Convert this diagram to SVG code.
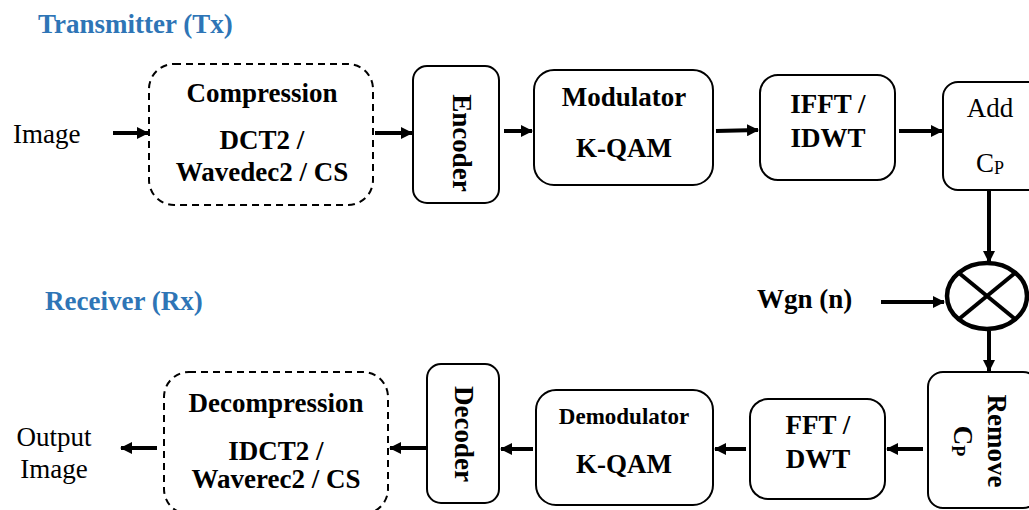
<svg xmlns="http://www.w3.org/2000/svg" width="1029" height="510" viewBox="0 0 1029 510">
<style>
.box{fill:#fff;stroke:#000;stroke-width:2}
.dash{fill:#fff;stroke:#000;stroke-width:2;stroke-dasharray:7 5}
.b{font-family:"Liberation Serif","Times New Roman",serif;font-weight:bold;font-size:27px;fill:#000}
.r{font-family:"Liberation Serif","Times New Roman",serif;font-size:27px;fill:#000}
.t{font-family:"Liberation Serif","Times New Roman",serif;font-weight:bold;font-size:27px;fill:#2E75B6}
.c{text-anchor:middle}
.s{font-size:23px}
.con line{stroke:#000;stroke-width:4;marker-end:url(#ah)}
</style>
<defs>
<marker id="ah" markerUnits="userSpaceOnUse" markerWidth="12" markerHeight="12" refX="11" refY="6" orient="auto">
<path d="M0,0 L12,6 L0,12 z" fill="#000"/>
</marker>
</defs>
<rect width="1029" height="510" fill="#fff"/>
<text class="t" x="38" y="33">Transmitter (Tx)</text>
<text class="t" x="45" y="310">Receiver (Rx)</text>
<g id="input"><text class="r" x="13" y="143">Image</text></g>
<g id="compression">
<rect class="dash" x="149" y="64" width="224" height="141" rx="25"/>
<text class="b c" x="262" y="102">Compression</text>
<text class="b c" x="262" y="149">DCT2 /</text>
<text class="b c" x="262" y="181">Wavedec2 / CS</text>
</g>
<g id="encoder">
<rect class="box" x="413" y="66" width="86" height="137" rx="14"/>
<text class="b c" x="453" y="143" transform="rotate(90 453 143)">Encoder</text>
</g>
<g id="modulator">
<rect class="box" x="534" y="70" width="179" height="115" rx="20"/>
<text class="b c" x="624" y="106">Modulator</text>
<text class="b c" x="624" y="157">K-QAM</text>
</g>
<g id="ifft">
<rect class="box" x="760" y="75" width="135" height="105" rx="18"/>
<text class="b c" x="828" y="113">IFFT /</text>
<text class="b c" x="828" y="147">IDWT</text>
</g>
<g id="addcp">
<rect class="box" x="943" y="82" width="100" height="108" rx="15"/>
<text class="r c" x="990" y="117">Add</text>
<text class="r c" x="990" y="172">C<tspan font-size="18" dy="2">P</tspan></text>
</g>
<g id="mixer">
<ellipse cx="987" cy="296" rx="40" ry="33" fill="#fff" stroke="#000" stroke-width="4.5"/>
<line x1="958.7" y1="272.7" x2="1015.3" y2="319.3" stroke="#000" stroke-width="4"/>
<line x1="1015.3" y1="272.7" x2="958.7" y2="319.3" stroke="#000" stroke-width="4"/>
</g>
<g id="noise"><text class="b" x="757" y="308">Wgn (n)</text></g>
<g id="removecp">
<rect class="box" x="928" y="372" width="110" height="136" rx="15"/>
<text class="b c" x="988" y="441" transform="rotate(90 988 441)">Remove</text>
<text class="b c" x="954" y="441" transform="rotate(90 954 441)">C<tspan font-size="18" dy="2">P</tspan></text>
</g>
<g id="fft">
<rect class="box" x="750" y="399" width="135" height="100" rx="18"/>
<text class="b c" x="818" y="434">FFT /</text>
<text class="b c" x="818" y="468">DWT</text>
</g>
<g id="demodulator">
<rect class="box" x="536" y="390" width="177" height="115" rx="20"/>
<text class="b c s" x="624" y="424">Demodulator</text>
<text class="b c" x="624" y="473">K-QAM</text>
</g>
<g id="decoder">
<rect class="box" x="427" y="364" width="72" height="139" rx="14"/>
<text class="b c" x="455" y="434" transform="rotate(90 455 434)">Decoder</text>
</g>
<g id="decompression">
<rect class="dash" x="164" y="372" width="224" height="142" rx="25"/>
<text class="b c" x="276" y="412">Decompression</text>
<text class="b c" x="276" y="460">IDCT2 /</text>
<text class="b c" x="276" y="488">Waverec2 / CS</text>
</g>
<g id="output">
<text class="r c" x="54" y="446">Output</text>
<text class="r c" x="54" y="478">Image</text>
</g>
<g id="connectors" class="con">
<line x1="113" y1="133" x2="148" y2="133"/>
<line x1="375" y1="133" x2="412" y2="133"/>
<line x1="504" y1="131" x2="532" y2="131"/>
<line x1="716" y1="131" x2="758" y2="130"/>
<line x1="899" y1="131" x2="942" y2="131"/>
<line x1="989" y1="191" x2="989" y2="262"/>
<line x1="881" y1="302" x2="944" y2="302"/>
<line x1="989" y1="331" x2="989" y2="371"/>
<line x1="923" y1="449" x2="887" y2="449"/>
<line x1="746" y1="449" x2="715" y2="449"/>
<line x1="533" y1="449" x2="501" y2="449"/>
<line x1="426" y1="448" x2="390" y2="448"/>
<line x1="157" y1="448" x2="121" y2="448"/>
</g>
</svg>
